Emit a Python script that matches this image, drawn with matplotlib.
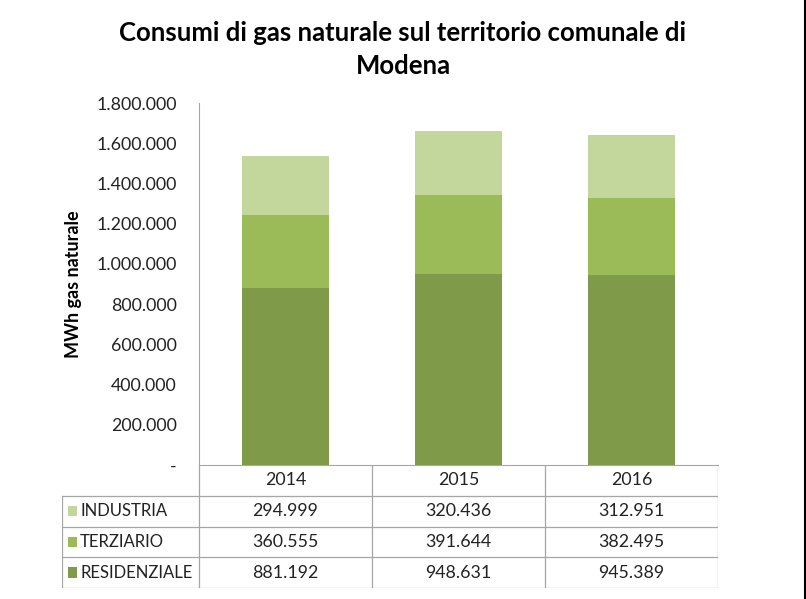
import matplotlib
matplotlib.use("Agg")
import matplotlib.pyplot as plt
from matplotlib.lines import Line2D
from matplotlib.patches import Rectangle

years = ["2014", "2015", "2016"]
series_names = ["INDUSTRIA", "TERZIARIO", "RESIDENZIALE"]
residenziale = [881192, 948631, 945389]
terziario = [360555, 391644, 382495]
industria = [294999, 320436, 312951]
colors = {"RESIDENZIALE": "#7F9A48", "TERZIARIO": "#9BBB59", "INDUSTRIA": "#C3D69B"}
yticks = [0, 200000, 400000, 600000, 800000, 1000000, 1200000, 1400000, 1600000, 1800000]

def fmt(v):
    if v == 0:
        return "-"
    return f"{v:,}".replace(",", ".")

plt.rcParams['font.family'] = ['Lato', 'DejaVu Sans']
W, H = 806, 599
fig = plt.figure(figsize=(W / 100, H / 100), dpi=100)
fig.patch.set_facecolor("white")

ax = fig.add_axes([199 / W, 1 - 465 / H, 519 / W, 362 / H])
x = list(range(len(years)))
vals = {"RESIDENZIALE": residenziale, "TERZIARIO": terziario, "INDUSTRIA": industria}
bottom = [0] * len(years)
for name in ["RESIDENZIALE", "TERZIARIO", "INDUSTRIA"]:
    ax.bar(x, vals[name], bottom=bottom, width=0.5, color=colors[name], linewidth=0)
    bottom = [b + v for b, v in zip(bottom, vals[name])]
ax.set_xlim(-0.5, 2.5)
ax.set_ylim(0, 1800000)
ax.set_yticks(yticks)
ax.set_yticklabels([fmt(v) for v in yticks], fontsize=12.8, color="#222222")
ax.tick_params(axis="y", length=0, pad=16)
ax.set_xticks([])
for s in ["top", "right"]:
    ax.spines[s].set_visible(False)
ax.spines["left"].set_color("#A6A6A6")
ax.spines["bottom"].set_color("#A6A6A6")
ax.set_ylabel("MWh gas naturale", fontsize=13, fontweight="bold", labelpad=10)

fig.text(403 / W, 1 - 33 / H, "Consumi di gas naturale sul territorio comunale di",
         ha="center", va="center", fontsize=18.5, fontweight="bold")
fig.text(403 / W, 1 - 66 / H, "Modena", ha="center", va="center",
         fontsize=18.5, fontweight="bold")

# data table
tx = fig.add_axes([62 / W, 1 - 588 / H, 656 / W, 123 / H])
lab_w = 137 / 173
tx.set_xlim(-0.5 - lab_w, 2.5)
tx.set_ylim(0, 4)
tx.axis("off")
lc = "#A6A6A6"
lw = 0.9
# header row
for xv in [-0.5, 0.5, 1.5, 2.5]:
    tx.add_line(Line2D([xv, xv], [3, 4], color=lc, lw=lw))
for i, yr in enumerate(years):
    tx.text(i, 3.5, yr, ha="center", va="center", fontsize=12.8, color="#222222")
# data rows
for yv in [0, 1, 2, 3]:
    tx.add_line(Line2D([-0.5 - lab_w, 2.5], [yv, yv], color=lc, lw=lw))
for xv in [-0.5 - lab_w, -0.5, 0.5, 1.5, 2.5]:
    tx.add_line(Line2D([xv, xv], [0, 3], color=lc, lw=lw))
for r, name in enumerate(series_names):
    yc = 2.5 - r
    tx.add_patch(Rectangle((-0.5 - lab_w + 6 / 173, yc - 0.17), 9 / 173, 0.34,
                           color=colors[name], lw=0))
    tx.text(-0.5 - lab_w + 18 / 173, yc, name, ha="left", va="center",
            fontsize=12, color="#222222")
    for i in range(len(years)):
        tx.text(i, yc, fmt(vals[name][i]), ha="center", va="center",
                fontsize=12.8, color="#222222")

fig.add_artist(Line2D([804.5 / W, 804.5 / W], [0, 1], color="black", lw=1.5))

fig.savefig("out.png", dpi=100)
